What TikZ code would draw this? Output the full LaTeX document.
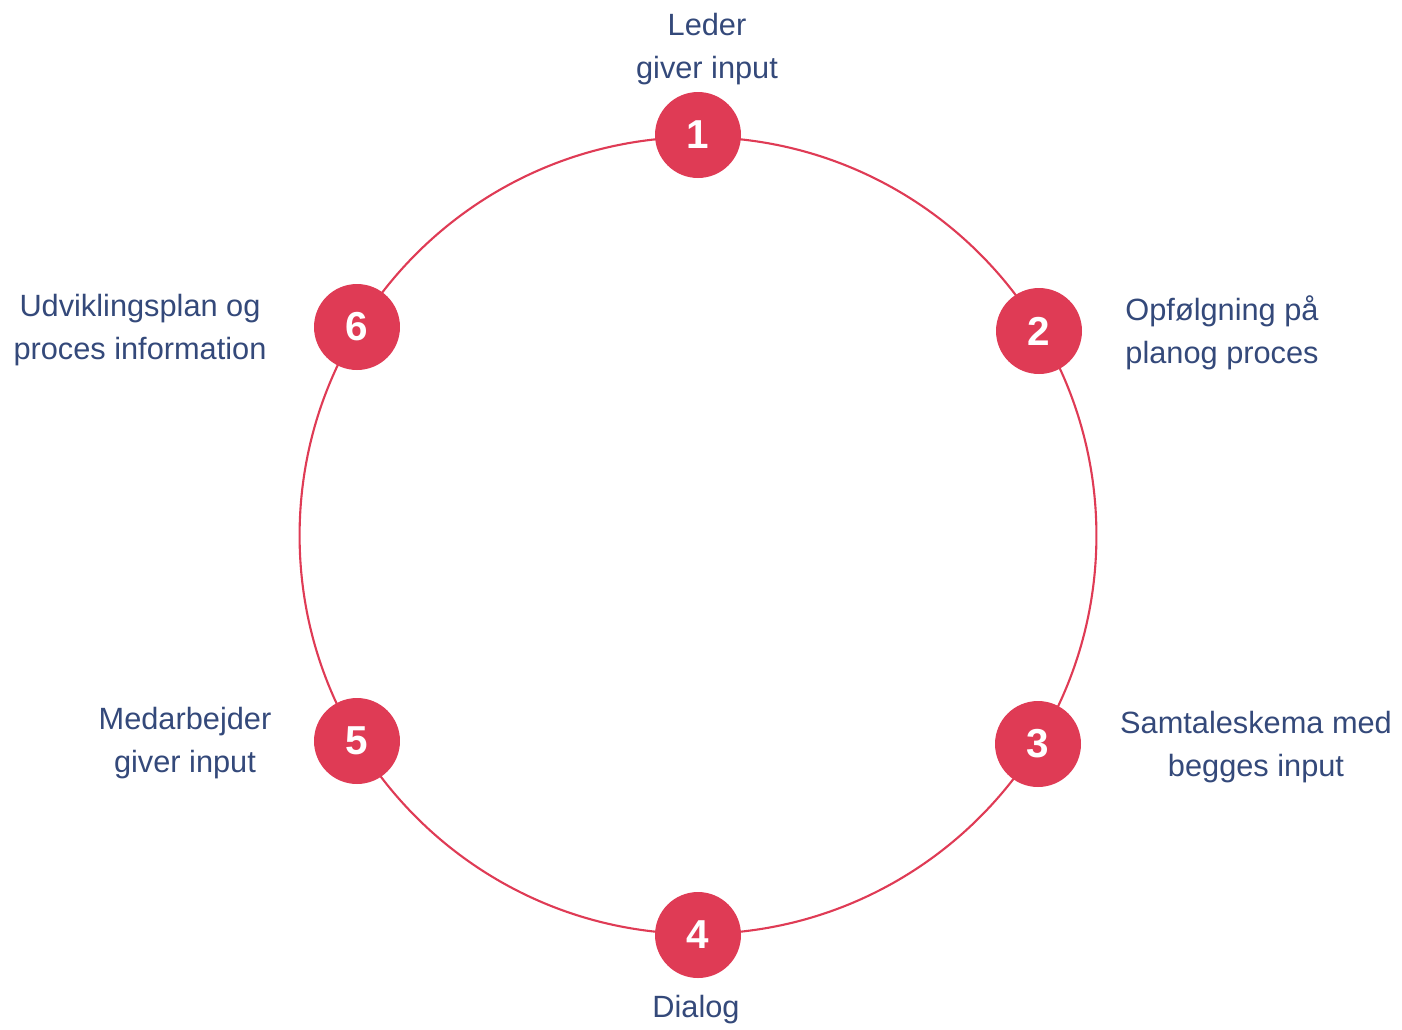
\documentclass[tikz,border=0pt]{standalone}
\usepackage{fontspec}
\setmainfont{Liberation Sans}
\definecolor{cyclered}{HTML}{DF3B55}
\definecolor{labelblue}{HTML}{34497A}
\begin{document}
\begin{tikzpicture}[x=0.02cm,y=-0.02cm,
  stepdot/.style={circle,fill=cyclered,minimum size=1.72cm,inner sep=0pt,
    text=white,font=\fontsize{23}{26}\selectfont\bfseries},
  steplabel/.style={text=labelblue,align=center,inner sep=0pt,
    font=\fontsize{17.5}{24.5}\selectfont},
  ring/.style={draw=cyclered,line width=1.2pt}]
\useasboundingbox (0,0) rectangle (1402,1029);
\coordinate (c) at (698,535.5);
\draw[ring] (c) circle[radius=7.97cm];
\node[stepdot] (s1) at (698,135) {1};
\node[stepdot] (s2) at (1039,331) {2};
\node[stepdot] (s3) at (1038,744) {3};
\node[stepdot] (s4) at (698,935) {4};
\node[stepdot] (s5) at (357,741) {5};
\node[stepdot] (s6) at (357,327) {6};
\node[steplabel] (l1) at (707,49) {Leder\\giver input};
\node[steplabel] (l2) at (1222,333) {Opfølgning på\\planog proces};
\node[steplabel] (l3) at (1256,747) {Samtaleskema med\\begges input};
\node[steplabel] (l4) at (696,1010) {Dialog};
\node[steplabel] (l5) at (185,743) {Medarbejder\\giver input};
\node[steplabel] (l6) at (140,330) {Udviklingsplan og\\proces information};
\end{tikzpicture}
\end{document}
